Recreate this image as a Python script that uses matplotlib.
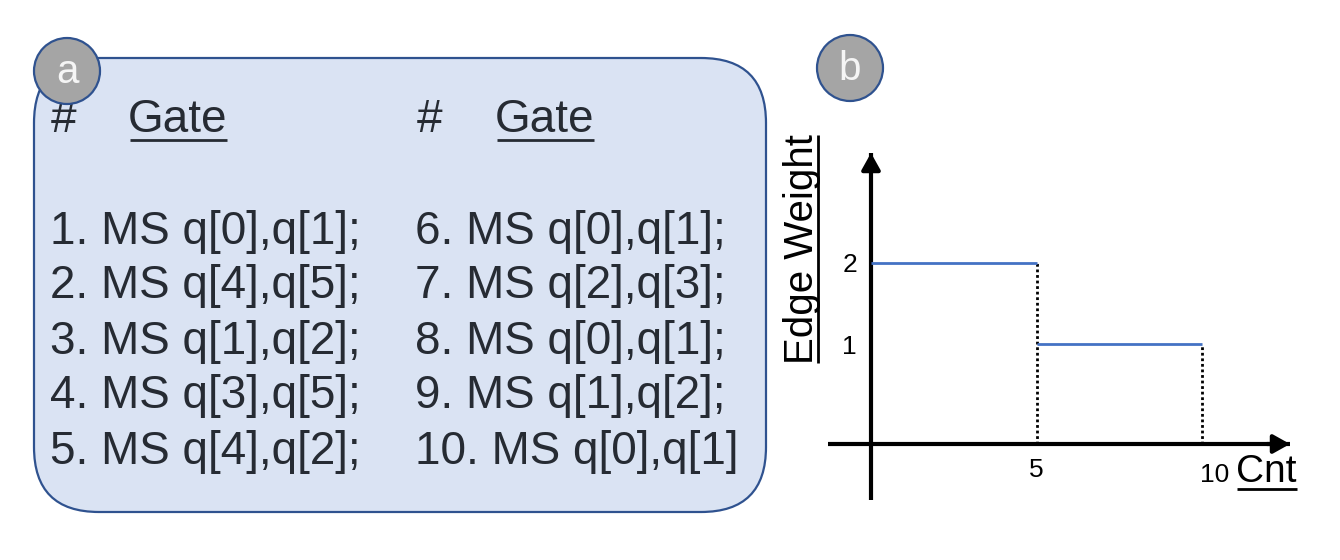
import matplotlib
matplotlib.use("Agg")
import matplotlib.pyplot as plt
from matplotlib.patches import FancyBboxPatch, Circle
import matplotlib.transforms as mtransforms

plt.rcParams['font.family'] = ['Liberation Sans', 'DejaVu Sans']

# ---------------- data ----------------
left_gates = ["1. MS q[0],q[1];", "2. MS q[4],q[5];", "3. MS q[1],q[2];",
              "4. MS q[3],q[5];", "5. MS q[4],q[2];"]
right_gates = ["6. MS q[0],q[1];", "7. MS q[2],q[3];", "8. MS q[0],q[1];",
               "9. MS q[1],q[2];", "10. MS q[0],q[1]"]
header_num = "#"
header_gate = "Gate"

cnt_edges = [0, 5, 10]          # step boundaries on the Cnt axis
edge_weights = [2, 1]           # weight on each step
y_ticks = [1, 2]
x_ticks = [5, 10]
x_label = "Cnt"
y_label = "Edge Weight"

# ---------------- styles ----------------
W, H = 1340, 560
TEXT_C = "#262B33"
BOX_FILL = "#DAE3F3"
BOX_EDGE = "#2F528F"
CIRC_FILL = "#A5A5A5"
STEP_C = "#4472C4"

fig = plt.figure(figsize=(W / 100, H / 100), dpi=100)
fig.patch.set_facecolor("white")

# overlay axes in pixel coordinates (y downwards)
ax0 = fig.add_axes([0, 0, 1, 1])
ax0.set_xlim(0, W)
ax0.set_ylim(H, 0)
ax0.axis("off")

# ---------- panel a ----------
box = FancyBboxPatch((34, 58), 732, 454,
                     boxstyle="round,pad=0,rounding_size=65",
                     fc=BOX_FILL, ec=BOX_EDGE, lw=1.6, zorder=1)
ax0.add_patch(box)

FS = 33
col_x = [50, 415]
hdr_hash_x = [51, 417]
hdr_gate_x = [128, 495]
hdr_base = 131.5
row_base0 = 243.5
row_step = 55.0

gate_texts = []
for c, gates in enumerate([left_gates, right_gates]):
    ax0.text(hdr_hash_x[c], hdr_base, header_num, fontsize=FS, color=TEXT_C,
             ha="left", va="baseline", zorder=3)
    t = ax0.text(hdr_gate_x[c], hdr_base, header_gate, fontsize=FS, color=TEXT_C,
                 ha="left", va="baseline", zorder=3)
    gate_texts.append(t)
    for i, g in enumerate(gates):
        ax0.text(col_x[c], row_base0 + i * row_step, g, fontsize=FS,
                 color=TEXT_C, ha="left", va="baseline", zorder=3)

# label circles
for (cx, cy, lab) in [(67, 71, "a"), (850, 68, "b")]:
    ax0.add_patch(Circle((cx, cy), 33, fc=CIRC_FILL, ec=BOX_EDGE, lw=1.6, zorder=5))
    ax0.text(cx, cy + 1, lab, fontsize=29, color="#F5F5F5", ha="center",
             va="center", zorder=6)

# ---------- panel b ----------
px_x0, px_unit_x = 871.0, 33.1      # pixel of Cnt=0, pixels per unit
px_y0, px_unit_y = 425.0, 81.0
axis_px = 444.0
left_px, right_px, top_px, bot_px = 828, 1290, 153, 500

ax = fig.add_axes([left_px / W, 1 - bot_px / H,
                   (right_px - left_px) / W, (bot_px - top_px) / H])
ax.patch.set_alpha(0)
ax.set_xlim((left_px - px_x0) / px_unit_x, (right_px - px_x0) / px_unit_x)
ax.set_ylim((px_y0 - bot_px) / px_unit_y, (px_y0 - top_px) / px_unit_y)
y_axis_level = (px_y0 - axis_px) / px_unit_y

for s in ["top", "right"]:
    ax.spines[s].set_visible(False)
ax.spines["left"].set_position(("data", 0))
ax.spines["bottom"].set_position(("data", y_axis_level))
for s in ["left", "bottom"]:
    ax.spines[s].set_linewidth(3)
    ax.spines[s].set_color("black")
    ax.spines[s].set_capstyle("butt")

# arrow heads
ax.annotate("", xy=(0, 1), xycoords=("data", "axes fraction"),
            xytext=(0, 0.95), textcoords=("data", "axes fraction"),
            arrowprops=dict(arrowstyle="-|>,head_length=0.5,head_width=0.28",
                            mutation_scale=20, lw=3, color="black",
                            shrinkA=0, shrinkB=0))
ax.annotate("", xy=(1, y_axis_level), xycoords=("axes fraction", "data"),
            xytext=(0.95, y_axis_level), textcoords=("axes fraction", "data"),
            arrowprops=dict(arrowstyle="-|>,head_length=0.5,head_width=0.28",
                            mutation_scale=20, lw=3, color="black",
                            shrinkA=0, shrinkB=0))

# step segments and dotted drops
ax.hlines(edge_weights, cnt_edges[:-1], cnt_edges[1:], color=STEP_C, lw=2, zorder=3)
ax.vlines(cnt_edges[1:], [y_axis_level] * len(edge_weights), edge_weights,
          color="black", lw=2, linestyles=[(0, (1, 1))], zorder=2)

ax.set_yticks(y_ticks)
ax.set_yticklabels([str(v) for v in y_ticks])
ax.set_xticks(x_ticks)
ax.set_xticklabels([str(v) for v in x_ticks])
ax.tick_params(axis="both", length=0, labelsize=19, colors="black")
ax.tick_params(axis="y", pad=10)
ax.tick_params(axis="x", pad=10)
lab10 = ax.get_xticklabels()[-1]
lab10.set_ha("left")
lab10.set_transform(lab10.get_transform() +
                    mtransforms.ScaledTranslation(-2 / 100, -5 / 100, fig.dpi_scale_trans))

# axis titles (underlined)
cnt_t = ax0.text(1236, 482, x_label, fontsize=28, color="black",
                 ha="left", va="baseline", zorder=3)
ew_t = ax0.text(813, 249, y_label, fontsize=29, color="black", rotation=90,
                ha="center", va="baseline", rotation_mode="anchor", zorder=3)

fig.canvas.draw()
r = fig.canvas.get_renderer()

def bbox_px(t):
    bb = t.get_window_extent(renderer=r)
    return bb.x0, H - bb.y1, bb.x1, H - bb.y0   # x0, top, x1, bottom

for t in gate_texts:
    x0, top, x1, bot = bbox_px(t)
    ax0.plot([x0 + 2, x1 - 1], [139.5, 139.5], color=TEXT_C, lw=2, zorder=3,
             solid_capstyle="butt")

x0, top, x1, bot = bbox_px(cnt_t)
ax0.plot([x0 + 1, x1], [489, 489], color="black", lw=2, solid_capstyle="butt")

x0, top, x1, bot = bbox_px(ew_t)
ax0.plot([818, 818], [top + 1, bot - 1], color="black", lw=2, solid_capstyle="butt")

fig.savefig("out.png", dpi=100)
